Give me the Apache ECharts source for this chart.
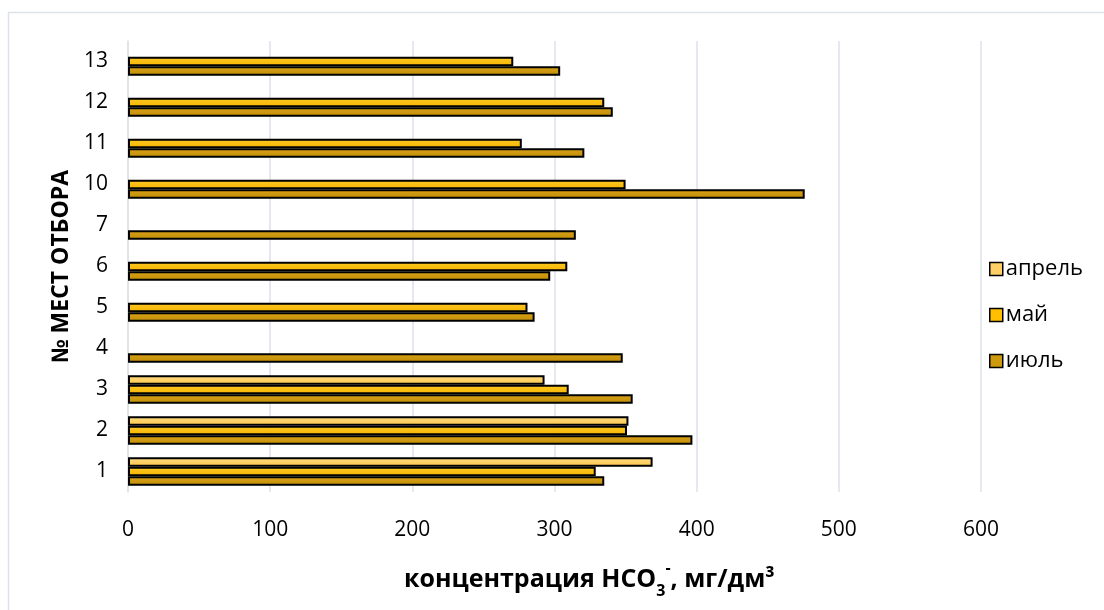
<!DOCTYPE html>
<html>
<head>
<meta charset="utf-8">
<script src="https://cdn.jsdelivr.net/npm/echarts@6/dist/echarts.min.js"></script>
<style>
html,body{margin:0;padding:0;background:#fff;}
#chart{width:1104px;height:610px;}
</style>
</head>
<body>
<div id="chart"></div>
<script>
const categories = ['1','2','3','4','5','6','7','10','11','12','13'];
const seriesNames = ['апрель','май','июль'];
const aprel = [369, 352, 293, null, null, null, null, null, null, null, null];
const mai   = [329, 351, 310, null, 281, 309, null, 350, 277, 335, 271];
const iyul  = [335, 397, 355, 348, 286, 297, 315, 476, 321, 341, 304];
const xTicks = [0, 100, 200, 300, 400, 500, 600];

const font = "'Open Sans', 'Noto Sans', sans-serif";
function grad(top, bottom){
  return new echarts.graphic.LinearGradient(0,0,0,1,[{offset:0,color:top},{offset:1,color:bottom}]);
}
const colors = {
  'апрель': grad('#FFDC86','#FFC94A'),
  'май': grad('#FFC926','#F5B400'),
  'июль': grad('#D9A21A','#C08E06')
};
const legendColors = {'апрель':'#FFD066','май':'#FFBF00','июль':'#CC9A0C'};

const chart = echarts.init(document.getElementById('chart'), null, {renderer:'canvas'});
const dataBy = {'апрель':aprel,'май':mai,'июль':iyul};
chart.setOption({
  animation:false,
  backgroundColor:'#fff',
  grid:{left:128, right:123, top:41, bottom:118, containLabel:false},
  legend:{
    orient:'vertical', left:984, top:253, itemGap:24,
    data:seriesNames.map(n=>({name:n, itemStyle:{color:legendColors[n], borderColor:'#000', borderWidth:1.5}})),
    itemWidth:13, itemHeight:13, icon:'rect',
    textStyle:{fontFamily:font, fontSize:22, color:'#000', padding:[0,0,0,-2]}
  },
  xAxis:{
    type:'value', min:0, max:600, interval:100,
    axisLine:{show:false}, axisTick:{show:false},
    splitLine:{show:true, lineStyle:{color:'#DDE2EA', width:1.5}},
    axisLabel:{fontFamily:font, fontSize:21, color:'#000', margin:28,
      formatter:v=>xTicks.includes(v)?String(v):''}
  },
  yAxis:{
    type:'category', data:categories,
    name:'№ МЕСТ ОТБОРА', nameLocation:'middle', nameGap:53,
    nameTextStyle:{fontFamily:font, fontSize:23, fontWeight:'bold', color:'#000'},
    axisLine:{show:true, lineStyle:{color:'#DDE2EA', width:1.5}},
    axisTick:{show:false},
    axisLabel:{fontFamily:font, fontSize:21, color:'#000', margin:20}
  },
  graphic:[
    {type:'rect', shape:{x:8.5, y:12.5, width:1200, height:700}, style:{fill:null, stroke:'#DDE2EA', lineWidth:1.5}, silent:true, z:-1},
    {type:'text', x:404, y:560,
      style:{text:'{b|концентрация HCO}{s|3}{p|-}{b|, мг/дм³}',
        rich:{
          b:{fontFamily:font, fontSize:25, fontWeight:'bold', fill:'#000', verticalAlign:'bottom'},
          s:{fontFamily:font, fontSize:16, fontWeight:'bold', fill:'#000', padding:[0,0,-7,0], verticalAlign:'bottom'},
          p:{fontFamily:font, fontSize:16, fontWeight:'bold', fill:'#000', padding:[0,0,16,0], verticalAlign:'bottom'}
        }}}
  ],
  series: seriesNames.map(n=>({
    name:n, type:'bar', data:dataBy[n],
    barGap:'0%', barCategoryGap:'30%',
    itemStyle:{color:colors[n], borderColor:'#000', borderWidth:2}
  }))
});
</script>
</body>
</html>
